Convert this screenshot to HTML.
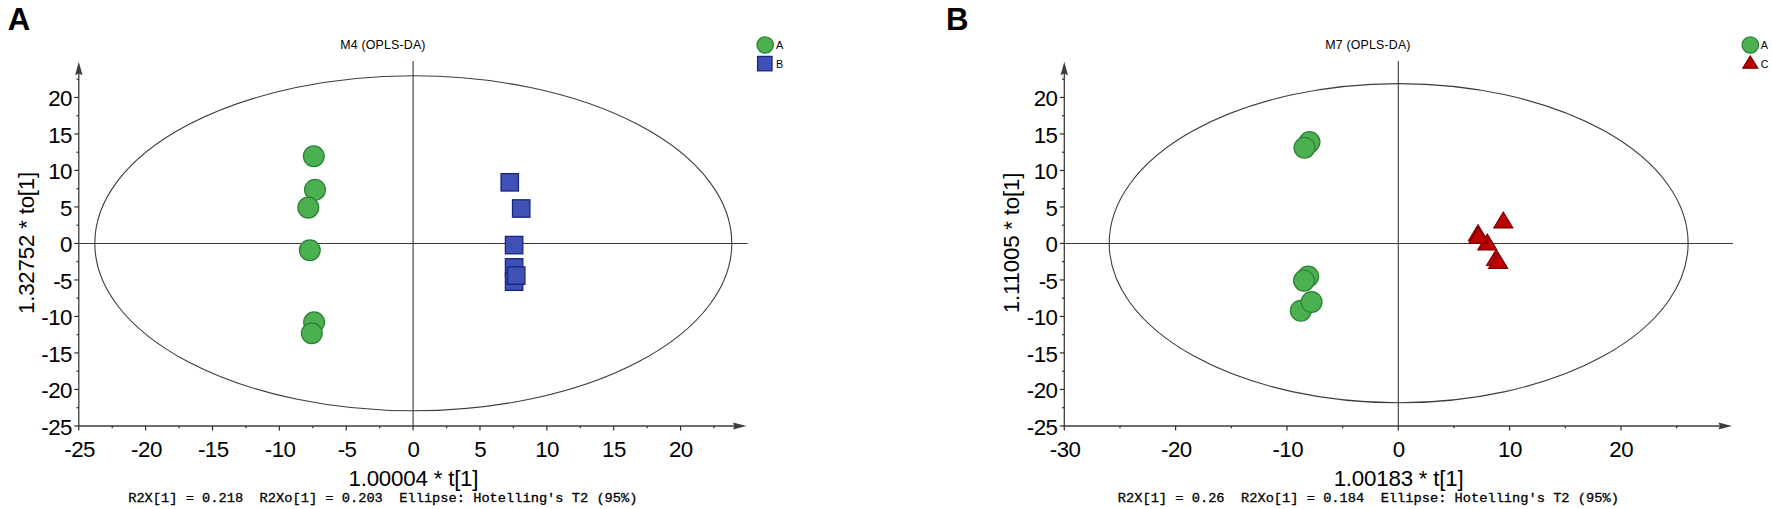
<!DOCTYPE html>
<html lang="en"><head><meta charset="utf-8"><title>OPLS-DA score plots</title>
<style>
html,body{margin:0;padding:0;background:#fff;}
body{width:1772px;height:509px;overflow:hidden;}
svg{display:block;}
.lab{font-family:"Liberation Sans",Arial,sans-serif;font-size:22.3px;letter-spacing:-0.5px;fill:#000;}
.cap{letter-spacing:-0.2px;}
.ttl{font-family:"Liberation Sans",Arial,sans-serif;font-size:12.4px;letter-spacing:0.17px;fill:#000;}
.leg{font-family:"Liberation Sans",Arial,sans-serif;font-size:10.8px;fill:#000;}
.foot{font-family:"Liberation Mono","DejaVu Sans Mono",monospace;font-size:13.69px;fill:#000;white-space:pre;stroke:#000;stroke-width:0.3px;}
.pan{font-family:"Liberation Sans",Arial,sans-serif;font-size:31.2px;font-weight:bold;fill:#000;}
.ax{stroke:#3c3c3c;stroke-width:1.3;fill:none;}
.axx{stroke:#3c3c3c;stroke-width:1.6;fill:none;}
.tk{stroke:#2c2c2c;stroke-width:1.2;fill:none;}
.zl{stroke:#383838;stroke-width:1.1;fill:none;}
.el{stroke:#3c3c3c;stroke-width:1.1;fill:none;}
.g{fill:#4caf50;stroke:#2a8535;stroke-width:1.3;}
.b{fill:#3f51b5;stroke:#1a237e;stroke-width:1.3;}
.r{fill:#be0000;stroke:#7a0000;stroke-width:1.2;stroke-linejoin:miter;}
</style></head><body>
<svg width="1772" height="509" viewBox="0 0 1772 509">
<rect x="0" y="0" width="1772" height="509" fill="#ffffff"/>
<g>
<text class="pan" x="7.7" y="30">A</text>
<text class="ttl" x="383" y="48.9" text-anchor="middle">M4 (OPLS-DA)</text>
<ellipse class="el" cx="413.3" cy="243.3" rx="318.5" ry="167.5"/>
<line class="zl" x1="78.8" y1="243.45" x2="747.5" y2="243.45"/>
<line class="zl" x1="413.1" y1="61" x2="413.1" y2="426"/>
<line class="ax" x1="78.8" y1="70" x2="78.8" y2="426.6"/>
<line class="axx" x1="78.2" y1="426" x2="738.5" y2="426"/>
<path d="M78.8 61.8 L82.5 75.2 L78.8 73.6 L75.1 75.2 Z" fill="#3c3c3c"/>
<path d="M746.5 426 L732.9 422.4 L734.5 426 L732.9 429.6 Z" fill="#3c3c3c"/>
<line class="tk" x1="74.3" y1="425.95" x2="78.8" y2="425.95"/>
<text class="lab" x="72" y="434.95" text-anchor="end">-25</text>
<line class="tk" x1="74.3" y1="389.45" x2="78.8" y2="389.45"/>
<text class="lab" x="72" y="398.45" text-anchor="end">-20</text>
<line class="tk" x1="74.3" y1="352.95" x2="78.8" y2="352.95"/>
<text class="lab" x="72" y="361.95" text-anchor="end">-15</text>
<line class="tk" x1="74.3" y1="316.45" x2="78.8" y2="316.45"/>
<text class="lab" x="72" y="325.45" text-anchor="end">-10</text>
<line class="tk" x1="74.3" y1="279.95" x2="78.8" y2="279.95"/>
<text class="lab" x="72" y="288.95" text-anchor="end">-5</text>
<line class="tk" x1="74.3" y1="243.45" x2="78.8" y2="243.45"/>
<text class="lab" x="72" y="252.45" text-anchor="end">0</text>
<line class="tk" x1="74.3" y1="206.95" x2="78.8" y2="206.95"/>
<text class="lab" x="72" y="215.95" text-anchor="end">5</text>
<line class="tk" x1="74.3" y1="170.45" x2="78.8" y2="170.45"/>
<text class="lab" x="72" y="179.45" text-anchor="end">10</text>
<line class="tk" x1="74.3" y1="133.95" x2="78.8" y2="133.95"/>
<text class="lab" x="72" y="142.95" text-anchor="end">15</text>
<line class="tk" x1="74.3" y1="97.45" x2="78.8" y2="97.45"/>
<text class="lab" x="72" y="106.45" text-anchor="end">20</text>
<line class="tk" x1="76.5" y1="407.7" x2="78.8" y2="407.7"/>
<line class="tk" x1="76.5" y1="371.2" x2="78.8" y2="371.2"/>
<line class="tk" x1="76.5" y1="334.7" x2="78.8" y2="334.7"/>
<line class="tk" x1="76.5" y1="298.2" x2="78.8" y2="298.2"/>
<line class="tk" x1="76.5" y1="261.7" x2="78.8" y2="261.7"/>
<line class="tk" x1="76.5" y1="225.2" x2="78.8" y2="225.2"/>
<line class="tk" x1="76.5" y1="188.7" x2="78.8" y2="188.7"/>
<line class="tk" x1="76.5" y1="152.2" x2="78.8" y2="152.2"/>
<line class="tk" x1="76.5" y1="115.7" x2="78.8" y2="115.7"/>
<line class="tk" x1="76.5" y1="79.2" x2="78.8" y2="79.2"/>
<line class="tk" x1="78.78" y1="426" x2="78.78" y2="430.5"/>
<text class="lab" x="79.58" y="457" text-anchor="middle">-25</text>
<line class="tk" x1="145.64" y1="426" x2="145.64" y2="430.5"/>
<text class="lab" x="146.44" y="457" text-anchor="middle">-20</text>
<line class="tk" x1="212.51" y1="426" x2="212.51" y2="430.5"/>
<text class="lab" x="213.31" y="457" text-anchor="middle">-15</text>
<line class="tk" x1="279.37" y1="426" x2="279.37" y2="430.5"/>
<text class="lab" x="280.17" y="457" text-anchor="middle">-10</text>
<line class="tk" x1="346.24" y1="426" x2="346.24" y2="430.5"/>
<text class="lab" x="347.04" y="457" text-anchor="middle">-5</text>
<line class="tk" x1="413.1" y1="426" x2="413.1" y2="430.5"/>
<text class="lab" x="413.4" y="457" text-anchor="middle">0</text>
<line class="tk" x1="479.97" y1="426" x2="479.97" y2="430.5"/>
<text class="lab" x="480.27" y="457" text-anchor="middle">5</text>
<line class="tk" x1="546.83" y1="426" x2="546.83" y2="430.5"/>
<text class="lab" x="547.13" y="457" text-anchor="middle">10</text>
<line class="tk" x1="613.7" y1="426" x2="613.7" y2="430.5"/>
<text class="lab" x="614" y="457" text-anchor="middle">15</text>
<line class="tk" x1="680.56" y1="426" x2="680.56" y2="430.5"/>
<text class="lab" x="680.86" y="457" text-anchor="middle">20</text>
<line class="tk" x1="112.21" y1="426" x2="112.21" y2="428.3"/>
<line class="tk" x1="179.07" y1="426" x2="179.07" y2="428.3"/>
<line class="tk" x1="245.94" y1="426" x2="245.94" y2="428.3"/>
<line class="tk" x1="312.8" y1="426" x2="312.8" y2="428.3"/>
<line class="tk" x1="379.67" y1="426" x2="379.67" y2="428.3"/>
<line class="tk" x1="446.53" y1="426" x2="446.53" y2="428.3"/>
<line class="tk" x1="513.4" y1="426" x2="513.4" y2="428.3"/>
<line class="tk" x1="580.26" y1="426" x2="580.26" y2="428.3"/>
<line class="tk" x1="647.13" y1="426" x2="647.13" y2="428.3"/>
<line class="tk" x1="713.99" y1="426" x2="713.99" y2="428.3"/>
<text class="lab cap" x="413.4" y="486" text-anchor="middle">1.00004 * t[1]</text>
<text class="lab cap" transform="translate(33.8 243) rotate(-90)" text-anchor="middle">1.32752 * to[1]</text>
<text class="foot" x="128.2" y="502">R2X[1] = 0.218  R2Xo[1] = 0.203  Ellipse: Hotelling's T2 (95%)</text>
</g>
<circle class="g" cx="313.8" cy="156.3" r="10.4"/>
<circle class="g" cx="315" cy="189.7" r="10.4"/>
<circle class="g" cx="308.3" cy="207.6" r="10.4"/>
<circle class="g" cx="309.8" cy="250.2" r="10.4"/>
<circle class="g" cx="314.1" cy="322.3" r="10.4"/>
<circle class="g" cx="311.8" cy="333.3" r="10.4"/>
<rect class="b" x="501.05" y="173.6" width="17.4" height="17.4"/>
<rect class="b" x="512.5" y="199.8" width="17.4" height="17.4"/>
<rect class="b" x="505.4" y="236.4" width="17.4" height="17.4"/>
<rect class="b" x="505.4" y="258.7" width="17.4" height="17.4"/>
<rect class="b" x="505.4" y="273" width="17.4" height="17.4"/>
<rect class="b" x="507.5" y="266.9" width="17.4" height="17.4"/>
<circle class="g" cx="765.2" cy="45" r="8.2"/>
<text class="leg" x="776" y="49.2">A</text>
<rect class="b" x="757.6" y="56.4" width="14.4" height="14.4"/>
<text class="leg" x="776" y="67.6">B</text>
<g>
<text class="pan" x="946.1" y="30">B</text>
<text class="ttl" x="1368" y="48.9" text-anchor="middle">M7 (OPLS-DA)</text>
<ellipse class="el" cx="1398.65" cy="243.2" rx="289.45" ry="159.6"/>
<line class="zl" x1="1064.3" y1="243.45" x2="1733" y2="243.45"/>
<line class="zl" x1="1398.3" y1="61" x2="1398.3" y2="426"/>
<line class="ax" x1="1064.3" y1="70" x2="1064.3" y2="426.6"/>
<line class="axx" x1="1063.7" y1="426" x2="1724" y2="426"/>
<path d="M1064.3 61.8 L1068 75.2 L1064.3 73.6 L1060.6 75.2 Z" fill="#3c3c3c"/>
<path d="M1732 426 L1718.4 422.4 L1720 426 L1718.4 429.6 Z" fill="#3c3c3c"/>
<line class="tk" x1="1059.8" y1="425.95" x2="1064.3" y2="425.95"/>
<text class="lab" x="1057.5" y="434.95" text-anchor="end">-25</text>
<line class="tk" x1="1059.8" y1="389.45" x2="1064.3" y2="389.45"/>
<text class="lab" x="1057.5" y="398.45" text-anchor="end">-20</text>
<line class="tk" x1="1059.8" y1="352.95" x2="1064.3" y2="352.95"/>
<text class="lab" x="1057.5" y="361.95" text-anchor="end">-15</text>
<line class="tk" x1="1059.8" y1="316.45" x2="1064.3" y2="316.45"/>
<text class="lab" x="1057.5" y="325.45" text-anchor="end">-10</text>
<line class="tk" x1="1059.8" y1="279.95" x2="1064.3" y2="279.95"/>
<text class="lab" x="1057.5" y="288.95" text-anchor="end">-5</text>
<line class="tk" x1="1059.8" y1="243.45" x2="1064.3" y2="243.45"/>
<text class="lab" x="1057.5" y="252.45" text-anchor="end">0</text>
<line class="tk" x1="1059.8" y1="206.95" x2="1064.3" y2="206.95"/>
<text class="lab" x="1057.5" y="215.95" text-anchor="end">5</text>
<line class="tk" x1="1059.8" y1="170.45" x2="1064.3" y2="170.45"/>
<text class="lab" x="1057.5" y="179.45" text-anchor="end">10</text>
<line class="tk" x1="1059.8" y1="133.95" x2="1064.3" y2="133.95"/>
<text class="lab" x="1057.5" y="142.95" text-anchor="end">15</text>
<line class="tk" x1="1059.8" y1="97.45" x2="1064.3" y2="97.45"/>
<text class="lab" x="1057.5" y="106.45" text-anchor="end">20</text>
<line class="tk" x1="1062" y1="407.7" x2="1064.3" y2="407.7"/>
<line class="tk" x1="1062" y1="371.2" x2="1064.3" y2="371.2"/>
<line class="tk" x1="1062" y1="334.7" x2="1064.3" y2="334.7"/>
<line class="tk" x1="1062" y1="298.2" x2="1064.3" y2="298.2"/>
<line class="tk" x1="1062" y1="261.7" x2="1064.3" y2="261.7"/>
<line class="tk" x1="1062" y1="225.2" x2="1064.3" y2="225.2"/>
<line class="tk" x1="1062" y1="188.7" x2="1064.3" y2="188.7"/>
<line class="tk" x1="1062" y1="152.2" x2="1064.3" y2="152.2"/>
<line class="tk" x1="1062" y1="115.7" x2="1064.3" y2="115.7"/>
<line class="tk" x1="1062" y1="79.2" x2="1064.3" y2="79.2"/>
<line class="tk" x1="1064.28" y1="426" x2="1064.28" y2="430.5"/>
<text class="lab" x="1065.08" y="457" text-anchor="middle">-30</text>
<line class="tk" x1="1175.62" y1="426" x2="1175.62" y2="430.5"/>
<text class="lab" x="1176.42" y="457" text-anchor="middle">-20</text>
<line class="tk" x1="1286.96" y1="426" x2="1286.96" y2="430.5"/>
<text class="lab" x="1287.76" y="457" text-anchor="middle">-10</text>
<line class="tk" x1="1398.3" y1="426" x2="1398.3" y2="430.5"/>
<text class="lab" x="1398.6" y="457" text-anchor="middle">0</text>
<line class="tk" x1="1509.64" y1="426" x2="1509.64" y2="430.5"/>
<text class="lab" x="1509.94" y="457" text-anchor="middle">10</text>
<line class="tk" x1="1620.98" y1="426" x2="1620.98" y2="430.5"/>
<text class="lab" x="1621.28" y="457" text-anchor="middle">20</text>
<line class="tk" x1="1119.95" y1="426" x2="1119.95" y2="428.3"/>
<line class="tk" x1="1231.29" y1="426" x2="1231.29" y2="428.3"/>
<line class="tk" x1="1342.63" y1="426" x2="1342.63" y2="428.3"/>
<line class="tk" x1="1453.97" y1="426" x2="1453.97" y2="428.3"/>
<line class="tk" x1="1565.31" y1="426" x2="1565.31" y2="428.3"/>
<line class="tk" x1="1676.65" y1="426" x2="1676.65" y2="428.3"/>
<text class="lab cap" x="1398.6" y="486" text-anchor="middle">1.00183 * t[1]</text>
<text class="lab cap" transform="translate(1019.3 243) rotate(-90)" text-anchor="middle">1.11005 * to[1]</text>
<text class="foot" x="1117.8" y="502">R2X[1] = 0.26  R2Xo[1] = 0.184  Ellipse: Hotelling's T2 (95%)</text>
</g>
<circle class="g" cx="1309.5" cy="142.1" r="10.4"/>
<circle class="g" cx="1304.5" cy="147.7" r="10.4"/>
<circle class="g" cx="1308.2" cy="276.5" r="10.4"/>
<circle class="g" cx="1304" cy="280.6" r="10.4"/>
<circle class="g" cx="1300.8" cy="310.7" r="10.4"/>
<circle class="g" cx="1311.6" cy="302" r="10.4"/>
<path class="r" d="M1503.3 212.1 L1512.8 227.9 L1493.8 227.9 Z"/>
<path class="r" d="M1478 224.9 L1487.5 240.7 L1468.5 240.7 Z"/>
<path class="r" d="M1487.3 234.1 L1496.8 249.9 L1477.8 249.9 Z"/>
<path class="r" d="M1478.3 227.5 L1487.8 243.3 L1468.8 243.3 Z"/>
<path class="r" d="M1496.1 249.7 L1505.6 265.5 L1486.6 265.5 Z"/>
<path class="r" d="M1498.1 252.7 L1507.6 268.5 L1488.6 268.5 Z"/>
<circle class="g" cx="1750.3" cy="45" r="8.2"/>
<text class="leg" x="1760.7" y="49.2">A</text>
<path class="r" d="M1750.3 56 L1757.8 68.2 L1742.8 68.2 Z"/>
<text class="leg" x="1760.7" y="67.6">C</text>
</svg></body></html>
